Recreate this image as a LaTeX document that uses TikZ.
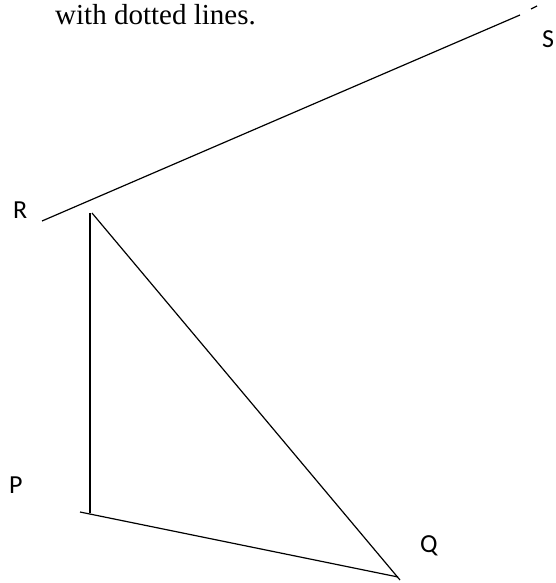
\documentclass[tikz,border=0pt]{standalone}
\usepackage{fontspec}
\setmainfont{Liberation Serif}
\newfontfamily\labelfont{Carlito}
\tikzset{
  seg/.style={line width=1.2pt, black},
  ptlabel/.style={anchor=base west, inner sep=0pt, font=\labelfont\fontsize{26}{30}\selectfont}
}
\begin{document}
\begin{tikzpicture}[x=1pt, y=-1pt]
  \useasboundingbox (0,0) rectangle (555,583);

  % Caption fragment
  \node[anchor=base west, inner sep=0pt, font=\fontsize{29}{34}\selectfont] (caption) at (55,25) {with dotted lines.};

  % Corner points
  \coordinate (rs0) at (42,221);
  \coordinate (rs1) at (520,15);
  \coordinate (dash0) at (531,9);
  \coordinate (dash1) at (537,6);
  \coordinate (top) at (90,213);
  \coordinate (topb) at (92,213);
  \coordinate (bot) at (90,513);
  \coordinate (base0) at (80,512);
  \coordinate (base1) at (398,577);
  \coordinate (qtip) at (400,580);

  % Line RS
  \draw[seg] (rs0) -- (rs1);
  \draw[seg] (dash0) -- (dash1);

  % Triangle
  \draw[seg] (top) -- (bot);
  \draw[seg] (topb) -- (qtip);
  \draw[seg] (base0) -- (base1);

  % Labels
  \node[ptlabel] (lblR) at (13,218) {R};
  \node[ptlabel] (lblS) at (542,48) {S};
  \node[ptlabel] (lblP) at (9,493) {P};
  \node[ptlabel] (lblQ) at (420,552) {Q};
\end{tikzpicture}
\end{document}
